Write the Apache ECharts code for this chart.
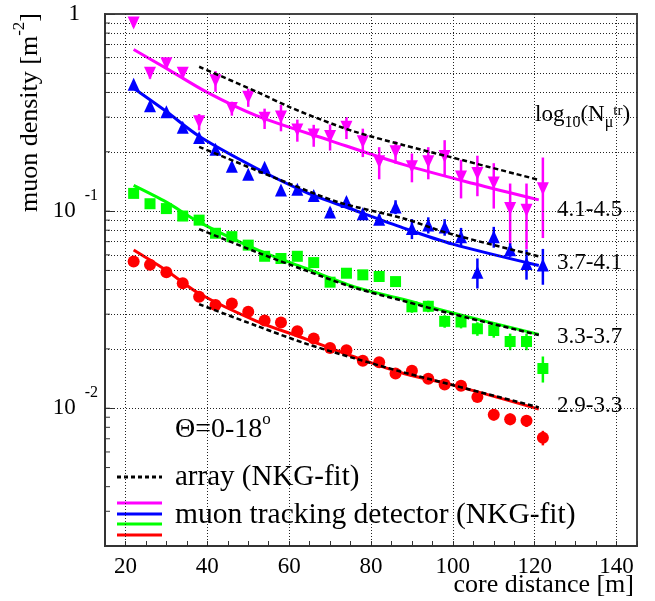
<!DOCTYPE html>
<html>
<head>
<meta charset="utf-8">
<script src="https://cdn.jsdelivr.net/npm/echarts@6/dist/echarts.min.js"></script>
<style>
  html, body { margin: 0; padding: 0; background: #fff; }
  #chart { width: 655px; height: 601px; }
</style>
</head>
<body>
<div id="chart"></div>
<script>
// core distance of the measured points [m]
var xPts = [22, 26, 30, 34, 38, 42, 46, 50, 54, 58, 62, 66, 70, 74, 78, 82, 86, 90, 94, 98, 102, 106, 110, 114, 118, 122];

// log10(Nmu_tr) = 4.1-4.5
var magY   = [0.90, 0.50, 0.56, 0.50, 0.284, 0.458, 0.332, 0.378, 0.296, 0.30, 0.258, 0.243, 0.239, 0.266, 0.225, 0.178, 0.20, 0.168, 0.178, 0.189, 0.149, 0.155, 0.139, 0.103, 0.101, 0.130];
var magErr = [0.04, 0.03, 0.033, 0.03, 0.027, 0.055, 0.027, 0.04, 0.035, 0.046, 0.033, 0.031, 0.036, 0.034, 0.037, 0.033, 0.026, 0.028, 0.033, 0.040, 0.033, 0.036, 0.036, 0.035, 0.037, 0.057];
// 3.7-4.1
var blueY   = [0.44, 0.342, 0.319, 0.266, 0.236, 0.206, 0.169, 0.154, 0.167, 0.128, 0.129, 0.12, 0.099, 0.112, 0.097, 0.091, 0.105, 0.0816, 0.085, 0.083, 0.0742, 0.049, 0.0742, 0.0636, 0.0543, 0.0533];
var blueErr = [0.01, 0.008, 0.008, 0.007, 0.006, 0.006, 0.005, 0.005, 0.006, 0.005, 0.005, 0.005, 0.005, 0.005, 0.005, 0.005, 0.0085, 0.0095, 0.008, 0.008, 0.008, 0.0085, 0.009, 0.005, 0.0094, 0.011];
// 3.3-3.7
var greenY   = [0.123, 0.109, 0.103, 0.0944, 0.090, 0.0772, 0.0742, 0.0672, 0.059, 0.0575, 0.059, 0.0548, 0.0436, 0.0484, 0.0475, 0.0466, 0.0439, 0.0327, 0.0329, 0.0276, 0.0274, 0.0253, 0.0248, 0.0218, 0.0218, 0.0159];
var greenErr = [0.003, 0.002, 0.002, 0.002, 0.002, 0.0015, 0.0015, 0.0015, 0.0015, 0.0015, 0.0015, 0.0015, 0.0012, 0.0012, 0.0012, 0.0012, 0.0012, 0.0022, 0.0022, 0.002, 0.002, 0.002, 0.002, 0.0021, 0.0021, 0.0024];
// 2.9-3.3
var redY   = [0.0555, 0.0535, 0.049, 0.0431, 0.0368, 0.0334, 0.034, 0.0309, 0.0279, 0.0272, 0.0246, 0.0226, 0.0202, 0.0197, 0.0174, 0.0171, 0.015, 0.0155, 0.0141, 0.0132, 0.013, 0.0114, 0.00927, 0.0088, 0.00863, 0.00708];
var redErr = [0.0008, 0.0008, 0.0007, 0.0007, 0.0006, 0.0006, 0.0006, 0.0005, 0.0005, 0.0005, 0.0005, 0.0005, 0.0005, 0.0005, 0.0005, 0.0005, 0.0005, 0.0005, 0.0005, 0.0005, 0.0005, 0.0005, 0.0006, 0.0006, 0.0006, 0.0006];

// NKG fits, muon tracking detector (solid)
var magFitX = [22, 30, 40, 52, 70, 88, 105, 121];
var magFitY = [0.66, 0.53, 0.40, 0.305, 0.228, 0.172, 0.138, 0.114];
var blueFitX = [22, 30, 38, 52, 64, 76, 88, 100, 121];
var blueFitY = [0.42, 0.32, 0.24, 0.165, 0.125, 0.101, 0.082, 0.068, 0.053];
var greenFitX = [22, 30, 38, 52, 64, 76, 88, 100, 121];
var greenFitY = [0.135, 0.111, 0.088, 0.064, 0.0513, 0.0413, 0.0356, 0.0304, 0.0237];
var redFitX = [22, 30, 38, 52, 64, 76, 88, 100, 121];
var redFitY = [0.0635, 0.050, 0.0382, 0.0277, 0.0225, 0.0182, 0.0150, 0.0131, 0.0099];

// NKG fits, array (dashed)
var magArrX = [38, 52, 60, 68, 76, 88, 99, 121];
var magArrY = [0.54, 0.404, 0.338, 0.29, 0.253, 0.216, 0.189, 0.144];
var blueArrX = [38, 52, 60, 72, 88, 99, 121];
var blueArrY = [0.212, 0.161, 0.138, 0.111, 0.0917, 0.0771, 0.059];
var greenArrX = [38, 52, 64, 76, 88, 100, 121];
var greenArrY = [0.081, 0.062, 0.050, 0.0408, 0.035, 0.030, 0.0235];
var redArrX = [38, 52, 64, 76, 88, 100, 121];
var redArrY = [0.0337, 0.0262, 0.0213, 0.0179, 0.0152, 0.0131, 0.0101];

var groupLabels = ['4.1-4.5', '3.7-4.1', '3.3-3.7', '2.9-3.3'];

// grid / tick positions
var xGridValues = [20, 40, 60, 80, 100, 120, 140];
var yGridValues = [0.003, 0.004, 0.005, 0.006, 0.007, 0.008, 0.009, 0.01,
                   0.02, 0.03, 0.04, 0.05, 0.06, 0.07, 0.08, 0.09, 0.1,
                   0.2, 0.3, 0.4, 0.5, 0.6, 0.7, 0.8, 0.9];

var FONT = 'Liberation Serif';
var X_MIN = 15, X_MAX = 145;

function zip(xs, ys) {
  return xs.map(function (x, i) { return [x, ys[i]]; });
}
function zip3(xs, ys, es) {
  return xs.map(function (x, i) { return [x, ys[i], es[i]]; });
}

function errorBars(color, ys, es) {
  return {
    type: 'custom',
    z: 4,
    silent: true,
    data: zip3(xPts, ys, es),
    renderItem: function (params, api) {
      var x = api.value(0), y = api.value(1), e = api.value(2);
      var p1 = api.coord([x, y - e]);
      var p2 = api.coord([x, y + e]);
      return {
        type: 'line',
        shape: { x1: p1[0], y1: p1[1], x2: p2[0], y2: p2[1] },
        style: { stroke: color, lineWidth: 2.5 }
      };
    }
  };
}

function markers(color, ys, symbol, size, rotate) {
  return {
    type: 'scatter',
    z: 5,
    silent: true,
    data: zip(xPts, ys),
    symbol: symbol,
    symbolSize: size,
    symbolRotate: rotate || 0,
    itemStyle: { color: color, opacity: 1 }
  };
}

function fitLine(color, xs, ys) {
  return {
    type: 'line',
    z: 3,
    silent: true,
    data: zip(xs, ys),
    smooth: 0.3,
    showSymbol: false,
    lineStyle: { color: color, width: 3 }
  };
}

function arrayLine(xs, ys) {
  return {
    type: 'line',
    z: 6,
    silent: true,
    data: zip(xs, ys),
    smooth: 0.3,
    showSymbol: false,
    lineStyle: { color: '#000', width: 2.5, type: [5, 3] }
  };
}

var myChart = echarts.init(document.getElementById('chart'));

var option = {
  animation: false,
  backgroundColor: '#fff',
  grid: {
    left: 105,
    right: 18,
    top: 14,
    bottom: 55,
    show: true,
    borderColor: '#444',
    borderWidth: 2
  },
  xAxis: {
    type: 'value',
    min: X_MIN,
    max: X_MAX,
    interval: 5,
    axisLine: { lineStyle: { color: '#333', width: 2 } },
    axisTick: { inside: true, length: 5, lineStyle: { color: '#333' } },
    splitLine: { show: false },
    axisLabel: {
      margin: 9,
      color: '#000',
      fontFamily: FONT,
      fontSize: 23,
      formatter: function (v) { return v % 20 === 0 ? String(v) : ''; }
    }
  },
  yAxis: {
    type: 'log',
    logBase: 10,
    min: 0.002,
    max: 1,
    axisLine: { lineStyle: { color: '#333', width: 2 } },
    axisTick: { inside: true, length: 10, lineStyle: { color: '#333' } },
    splitLine: { show: false },
    axisLabel: {
      margin: 7,
      color: '#000',
      formatter: function (v) {
        var lg = Math.log10(v);
        var e = Math.round(lg);
        if (Math.abs(lg - e) > 1e-6) return '';
        if (e === 0) return '{n|1}{g|}';
        return '{n|10}{s|' + e + '}';
      },
      rich: {
        n: { fontFamily: FONT, fontSize: 23, color: '#000' },
        s: { fontFamily: FONT, fontSize: 16, color: '#000', padding: [0, 0, 30, 9] },
        g: { width: 18 }
      }
    }
  },
  graphic: [
    {
      type: 'text', x: 30, y: 13, rotation: Math.PI / 2,
      style: {
        text: '{a|muon density [m}{s|-2}{a|]}',
        align: 'right', verticalAlign: 'middle',
        rich: {
          a: { fontFamily: FONT, fontSize: 26, fill: '#000' },
          s: { fontFamily: FONT, fontSize: 17, fill: '#000', padding: [0, 0, 20, 0] }
        }
      }
    },
    {
      type: 'text', x: 634, y: 585,
      style: { text: 'core distance [m]', font: '26px "Liberation Serif"', fill: '#000', align: 'right', verticalAlign: 'middle' }
    },
    {
      type: 'text', x: 535, y: 115,
      style: {
        text: '{m|log}{sb|10}{m|(N}{sb|μ}{sp|tr}{m|)}',
        align: 'left', verticalAlign: 'middle',
        rich: {
          m: { fontFamily: FONT, fontSize: 23, fill: '#000' },
          sb: { fontFamily: FONT, fontSize: 16, fill: '#000', padding: [16, 0, 0, 0] },
          sp: { fontFamily: FONT, fontSize: 15, fill: '#000', padding: [0, 0, 8, 0] }
        }
      }
    },
    { type: 'text', x: 557, y: 210, style: { text: groupLabels[0], font: '23px "Liberation Serif"', fill: '#000', verticalAlign: 'middle' } },
    { type: 'text', x: 557, y: 263, style: { text: groupLabels[1], font: '23px "Liberation Serif"', fill: '#000', verticalAlign: 'middle' } },
    { type: 'text', x: 557, y: 337, style: { text: groupLabels[2], font: '23px "Liberation Serif"', fill: '#000', verticalAlign: 'middle' } },
    { type: 'text', x: 557, y: 406, style: { text: groupLabels[3], font: '23px "Liberation Serif"', fill: '#000', verticalAlign: 'middle' } },
    {
      type: 'text', x: 175, y: 430,
      style: {
        text: '{a|Θ=0-18}{s|o}',
        align: 'left', verticalAlign: 'middle',
        rich: {
          a: { fontFamily: FONT, fontSize: 28, fill: '#000' },
          s: { fontFamily: FONT, fontSize: 17, fill: '#000', padding: [0, 0, 20, 0] }
        }
      }
    },
    // legend
    { type: 'line', shape: { x1: 117, y1: 477, x2: 162, y2: 477 }, style: { stroke: '#000', lineWidth: 3, lineDash: [4, 3] } },
    { type: 'text', x: 175, y: 477, style: { text: 'array (NKG-fit)', font: '29px "Liberation Serif"', fill: '#000', verticalAlign: 'middle' } },
    { type: 'line', shape: { x1: 117, y1: 503, x2: 162, y2: 503 }, style: { stroke: '#ff00ff', lineWidth: 3 } },
    { type: 'line', shape: { x1: 117, y1: 514, x2: 162, y2: 514 }, style: { stroke: '#0000ff', lineWidth: 3 } },
    { type: 'line', shape: { x1: 117, y1: 524, x2: 162, y2: 524 }, style: { stroke: '#00ff00', lineWidth: 3 } },
    { type: 'line', shape: { x1: 117, y1: 535, x2: 162, y2: 535 }, style: { stroke: '#ff0000', lineWidth: 3 } },
    { type: 'text', x: 175, y: 515, style: { text: 'muon tracking detector (NKG-fit)', font: '29.5px "Liberation Serif"', fill: '#000', verticalAlign: 'middle' } }
  ],
  series: [
    // dotted grid
    {
      type: 'line',
      data: [],
      z: 1,
      silent: true,
      markLine: {
        silent: true,
        symbol: ['none', 'none'],
        label: { show: false },
        lineStyle: { color: '#222', width: 1, type: [1, 2] },
        data: xGridValues.map(function (v) { return { xAxis: v }; })
          .concat(yGridValues.map(function (v) { return { yAxis: v }; }))
      }
    },
    // minor log ticks on the y axis
    {
      type: 'custom',
      z: 2,
      silent: true,
      data: yGridValues.map(function (v) { return [X_MIN, v]; }),
      renderItem: function (params, api) {
        var p = api.coord([api.value(0), api.value(1)]);
        return {
          type: 'line',
          shape: { x1: p[0], y1: p[1], x2: p[0] + 5, y2: p[1] },
          style: { stroke: '#333', lineWidth: 1 }
        };
      }
    },
    fitLine('#ff00ff', magFitX, magFitY),
    fitLine('#0000ff', blueFitX, blueFitY),
    fitLine('#00ff00', greenFitX, greenFitY),
    fitLine('#ff0000', redFitX, redFitY),
    errorBars('#ff00ff', magY, magErr),
    errorBars('#0000ff', blueY, blueErr),
    errorBars('#00ff00', greenY, greenErr),
    errorBars('#ff0000', redY, redErr),
    markers('#ff00ff', magY, 'triangle', [12, 13], 180),
    markers('#0000ff', blueY, 'triangle', [12, 13]),
    markers('#00ff00', greenY, 'rect', 11),
    markers('#ff0000', redY, 'circle', 12),
    arrayLine(magArrX, magArrY),
    arrayLine(blueArrX, blueArrY),
    arrayLine(greenArrX, greenArrY),
    arrayLine(redArrX, redArrY)
  ]
};

myChart.setOption(option);
</script>
</body>
</html>
